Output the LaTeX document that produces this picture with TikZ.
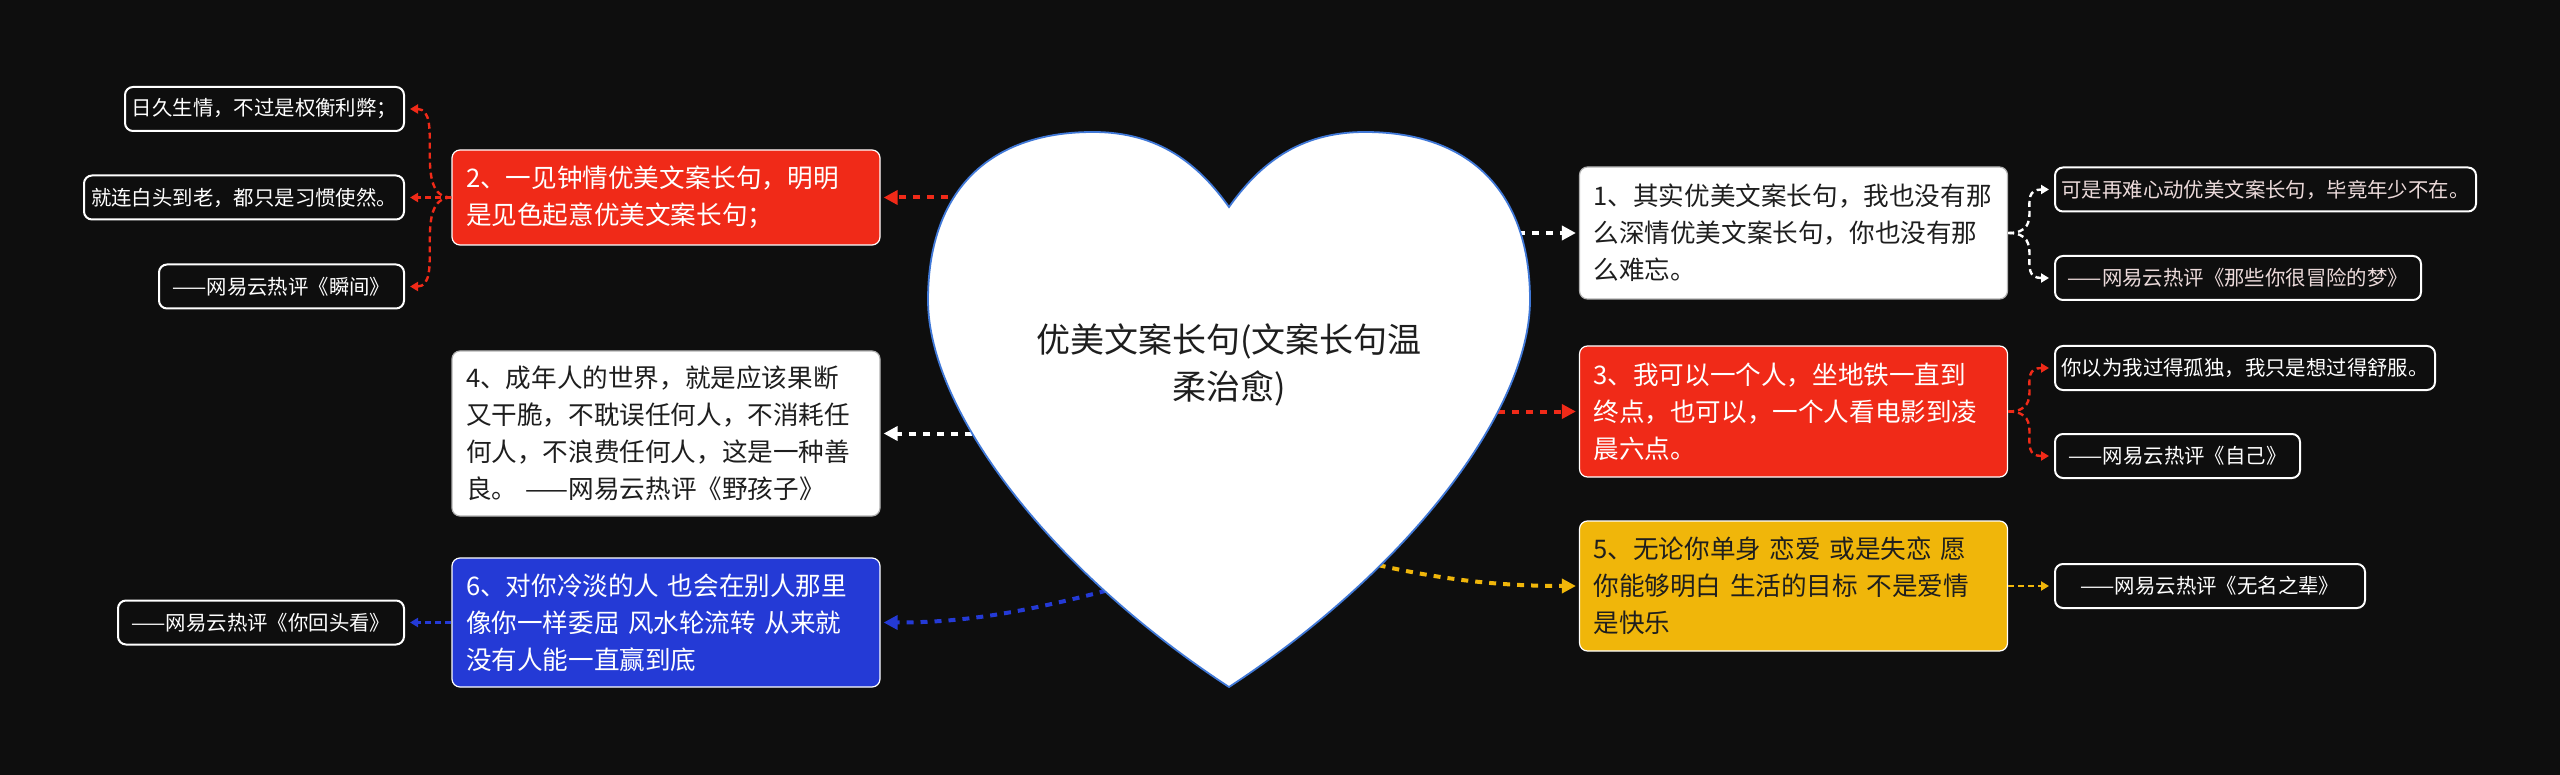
\documentclass[tikz,border=0pt]{standalone}
\usepackage{fontspec}
\setmainfont{Noto Sans CJK SC}
\usetikzlibrary{arrows.meta}
\definecolor{bg}{RGB}{14,14,14}
\definecolor{cred}{RGB}{240,42,24}
\definecolor{cblue}{RGB}{36,58,214}
\definecolor{cyellow}{RGB}{240,182,10}
\definecolor{cheart}{RGB}{64,120,215}
\definecolor{cpink}{RGB}{236,218,218}
\definecolor{cdark}{RGB}{30,30,30}
\newcommand\mainfs{\fontsize{12.8pt}{18.5pt}\selectfont}
\newcommand\leaffs{\fontsize{10.2pt}{12pt}\selectfont}
\newcommand\centerfs{\fontsize{17pt}{23.5pt}\selectfont}
\begin{document}
\begin{tikzpicture}[x=0.5pt,y=-0.5pt,
  mainbox/.style={rounded corners=4pt, minimum width=214pt, text width=200pt,
    inner xsep=7pt, inner ysep=3pt, align=left, font=\mainfs, line width=0.6pt},
  leafbox/.style={draw=white, line width=1pt, fill=bg, rounded corners=4pt,
    minimum height=22pt, inner sep=0pt, font=\leaffs, text=white, align=center},
  mainline/.style={line width=2pt, dash pattern=on 3.5pt off 3.5pt,
    -{Triangle[length=7pt,width=7pt]}, shorten >=1.5pt},
  subline/.style={line width=1.2pt, dash pattern=on 3pt off 2pt,
    -{Triangle[length=4pt,width=4.5pt]}, shorten >=2.5pt}
]
\useasboundingbox (0,0) rectangle (2560,775);
\fill[bg] (0,0) rectangle (2560,775);

% main boxes, left column
\node[mainbox, fill=cred, draw=white, text=white, minimum height=47.5pt] (b2) at (666,197.5)
  {2、一见钟情优美文案长句，明明\\是见色起意优美文案长句；};
\node[mainbox, fill=white, draw=gray!60, text=cdark, minimum height=82.5pt] (b4) at (666,433.5)
  {4、成年人的世界，就是应该果断\\又干脆，不耽误任何人，不消耗任\\何人，不浪费任何人，这是一种善\\良。~——网易云热评《野孩子》};
\node[mainbox, fill=cblue, draw=white, text=white, minimum height=64.5pt] (b6) at (666,622.5)
  {6、对你冷淡的人~也会在别人那里\\像你一样委屈~风水轮流转~从来就\\没有人能一直赢到底};

% main boxes, right column
\node[mainbox, fill=white, draw=gray!60, text=cdark, minimum height=66pt] (b1) at (1793.5,233)
  {1、其实优美文案长句，我也没有那\\么深情优美文案长句，你也没有那\\么难忘。};
\node[mainbox, fill=cred, draw=white, text=white, minimum height=65.5pt] (b3) at (1793.5,411.5)
  {3、我可以一个人，坐地铁一直到\\终点，也可以，一个人看电影到凌\\晨六点。};
\node[mainbox, fill=cyellow, draw=white, text=cdark, minimum height=65pt] (b5) at (1793.5,586)
  {5、无论你单身~恋爱~或是失恋~愿\\你能够明白~生活的目标~不是爱情\\是快乐};

% leaves, left
\node[leafbox, anchor=east, minimum width=139.5pt] (l2a) at (405,109) {日久生情，不过是权衡利弊；};
\node[leafbox, anchor=east, minimum width=160pt] (l2b) at (405,197.5) {就连白头到老，都只是习惯使然。};
\node[leafbox, anchor=east, minimum width=122.5pt] (l2c) at (405,286.5) {——网易云热评《瞬间》};
\node[leafbox, anchor=east, minimum width=143pt] (l6a) at (405,622.5) {——网易云热评《你回头看》};

% leaves, right
\node[leafbox, anchor=west, minimum width=210.5pt, text=cpink] (r1a) at (2054,189.5) {可是再难心动优美文案长句，毕竟年少不在。};
\node[leafbox, anchor=west, minimum width=183pt, text=cpink] (r1b) at (2054,278) {——网易云热评《那些你很冒险的梦》};
\node[leafbox, anchor=west, minimum width=190pt] (r3a) at (2054,368) {你以为我过得孤独，我只是想过得舒服。};
\node[leafbox, anchor=west, minimum width=122.5pt] (r3b) at (2054,456) {——网易云热评《自己》};
\node[leafbox, anchor=west, minimum width=155pt] (r5a) at (2054,586) {——网易云热评《无名之辈》};

% connectors from the heart (start points hidden under the heart)
\coordinate (h2) at (990,197.5);
\coordinate (h4) at (1000,433.5);
\coordinate (h6) at (1120,587);
\coordinate (h1) at (1490,233);
\coordinate (h3) at (1470,411.5);
\coordinate (h5) at (1365,562);
\draw[mainline, cred] (h2) -- (b2.east);
\draw[mainline, white] (h4) -- (b4.east);
\draw[mainline, cblue] (h6) .. controls (1020,614) and (960,622.5) .. (b6.east);
\draw[mainline, white] (h1) -- (b1.west);
\draw[mainline, cred] (h3) -- (b3.west);
\draw[mainline, cyellow] (h5) .. controls (1440,580) and (1500,586) .. (b5.west);

% heart
\path[fill=white, draw=cheart, line width=0.9pt]
  (1229,207) .. controls (1259,165) and (1298,132) .. (1365,132)
  .. controls (1473,132) and (1530,195) .. (1530,300)
  .. controls (1530,410) and (1408,570) .. (1229,687)
  .. controls (1050,570) and (928,410) .. (928,300)
  .. controls (928,195) and (985,132) .. (1093,132)
  .. controls (1160,132) and (1199,165) .. (1229,207) -- cycle;
\node[font=\centerfs, text=cdark, align=center] (root) at (1229,365)
  {优美文案长句(文案长句温\\柔治愈)};

% branch connectors
\draw[subline, cred] (b2.west) .. controls +(-40,0) and +(40,0) .. (l2a.east);
\draw[subline, cred] (b2.west) -- (l2b.east);
\draw[subline, cred] (b2.west) .. controls +(-40,0) and +(40,0) .. (l2c.east);
\draw[subline, cblue] (b6.west) -- (l6a.east);
\draw[subline, white] (b1.east) .. controls +(40,0) and +(-40,0) .. (r1a.west);
\draw[subline, white] (b1.east) .. controls +(40,0) and +(-40,0) .. (r1b.west);
\draw[subline, cred] (b3.east) .. controls +(40,0) and +(-40,0) .. (r3a.west);
\draw[subline, cred] (b3.east) .. controls +(40,0) and +(-40,0) .. (r3b.west);
\draw[subline, cyellow] (b5.east) -- (r5a.west);
\end{tikzpicture}
\end{document}
